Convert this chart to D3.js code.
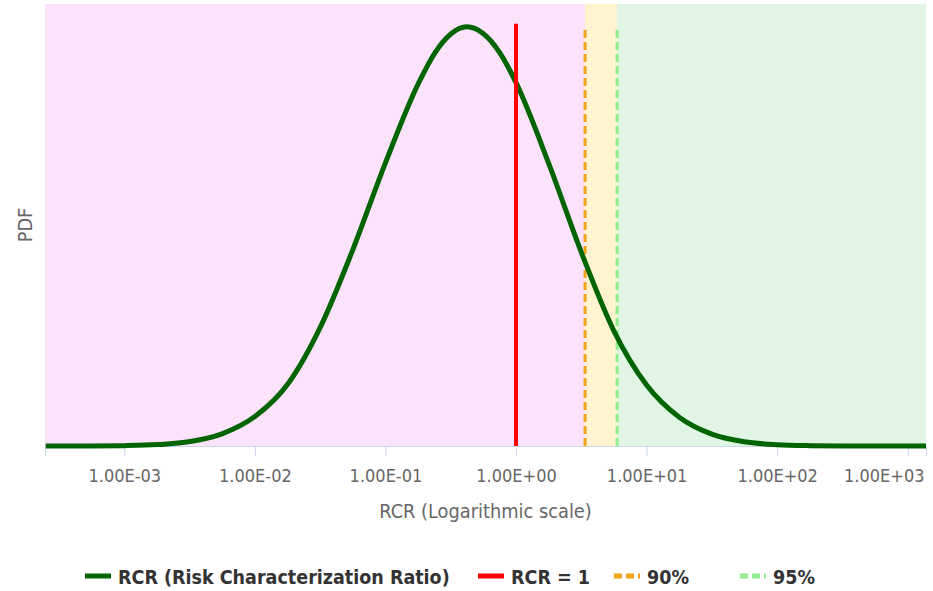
<!DOCTYPE html>
<html>
<head>
<meta charset="utf-8">
<script src="https://cdn.jsdelivr.net/npm/d3@7"></script>
<style>
  body { margin: 0; background: #fff; }
  text { font-family: "DejaVu Sans Condensed", "DejaVu Sans", sans-serif; font-stretch: condensed; }
</style>
</head>
<body>
<div id="chart"></div>
<script>
var svgWidth = 933;
var svgHeight = 591;

var margin = { top: 4, right: 7, bottom: 145, left: 45 };
var width = svgWidth - margin.left - margin.right;
var height = svgHeight - margin.top - margin.bottom;

var fontFamily = "DejaVu Sans Condensed, DejaVu Sans, sans-serif";

// RCR values (x) and the PDF (y)
var rcrValues = [0.00025, 0.00056, 0.001, 0.0018, 0.0032, 0.0056, 0.01, 0.018, 0.032, 0.056,
    0.1, 0.18, 0.24, 0.32, 0.42, 0.56, 0.75, 1, 1.8, 3.2, 5.6, 10, 18, 32, 56,
    100, 180, 320, 560, 1000, 1380];
var pdfValues = [0.0000, 0.0001, 0.0005, 0.0019, 0.0060, 0.0165, 0.040, 0.085, 0.163, 0.266,
    0.385, 0.494, 0.535, 0.561, 0.570, 0.561, 0.535, 0.494, 0.382, 0.261, 0.157, 0.083, 0.0385, 0.0158, 0.0057,
    0.0018, 0.0005, 0.0001, 0.0000, 0.0, 0.0];

var rcrOne = 1;
var p90 = 3.38;
var p95 = 5.94;

var xTicks = [1e-3, 1e-2, 1e-1, 1e0, 1e1, 1e2, 1e3];
var legendLabels = ["RCR (Risk Characterization Ratio)", "RCR = 1", "90%", "95%"];

var curveData = rcrValues.map(function(d, i) { return { x: d, y: pdfValues[i] }; });

var svg = d3.select("#chart")
    .append("svg")
    .attr("width", svgWidth)
    .attr("height", svgHeight);

var chartGroup = svg.append("g")
    .attr("transform", `translate(${margin.left}, ${margin.top})`);

var xLogScale = d3.scaleLog()
    .domain([2.47e-4, 1380])
    .range([0, width]);

var yLinearScale = d3.scaleLinear()
    .domain([0, 0.601])
    .range([height, 0]);

// background zones
var zones = [
    { from: xLogScale.domain()[0], to: p90, color: "#fce2fb" },
    { from: p90, to: p95, color: "#fff4cf" },
    { from: p95, to: xLogScale.domain()[1], color: "#e1f5e4" }
];
chartGroup.selectAll(".zone")
    .data(zones)
    .enter()
    .append("rect")
    .attr("x", d => xLogScale(d.from))
    .attr("width", d => xLogScale(d.to) - xLogScale(d.from))
    .attr("y", 0)
    .attr("height", height)
    .attr("fill", d => d.color);

function fmt(d) {
    var parts = d.toExponential(2).toUpperCase().split("E");
    var e = +parts[1];
    return parts[0] + "E" + (e < 0 ? "-" : "+") + String(Math.abs(e)).padStart(2, "0");
}

var bottomAxis = d3.axisBottom(xLogScale)
    .tickValues(xTicks)
    .tickFormat(fmt)
    .tickSize(10)
    .tickPadding(13);

var xAxis = chartGroup.append("g")
    .attr("transform", `translate(0, ${height})`)
    .call(bottomAxis);
xAxis.select(".domain").attr("stroke", "#ccd6eb");
xAxis.selectAll(".tick line").attr("stroke", "#ccd6eb");
xAxis.selectAll(".tick text")
    .attr("fill", "#666")
    .attr("font-size", "18px")
    .style("font-family", fontFamily);

// keep the last label inside the chart
xAxis.selectAll(".tick text").each(function(d) {
    var w = this.getComputedTextLength();
    var right = margin.left + xLogScale(d) + w / 2;
    var limit = svgWidth - 9;
    if (right > limit) d3.select(this).attr("x", limit - right);
});

var peak = d3.max(pdfValues);

// vertical marker lines
chartGroup.append("line")
    .attr("x1", xLogScale(p90)).attr("x2", xLogScale(p90))
    .attr("y1", yLinearScale(0)).attr("y2", yLinearScale(peak))
    .attr("stroke", "#f5a21b")
    .attr("stroke-width", 3)
    .attr("stroke-dasharray", "8,4");

chartGroup.append("line")
    .attr("x1", xLogScale(p95)).attr("x2", xLogScale(p95))
    .attr("y1", yLinearScale(0)).attr("y2", yLinearScale(peak))
    .attr("stroke", "#90ee90")
    .attr("stroke-width", 3)
    .attr("stroke-dasharray", "8,4");

var line = d3.line()
    .x(d => xLogScale(d.x))
    .y(d => yLinearScale(d.y))
    .curve(d3.curveMonotoneX);

chartGroup.append("path")
    .datum(curveData)
    .attr("d", line)
    .attr("fill", "none")
    .attr("stroke", "#006400")
    .attr("stroke-width", 5)
    .attr("stroke-linejoin", "round");

chartGroup.append("line")
    .attr("x1", xLogScale(rcrOne)).attr("x2", xLogScale(rcrOne))
    .attr("y1", yLinearScale(0)).attr("y2", yLinearScale(peak) - 3)
    .attr("stroke", "#ff0000")
    .attr("stroke-width", 4);

// axis titles
chartGroup.append("text")
    .attr("text-anchor", "middle")
    .attr("x", width / 2)
    .attr("y", height + 72)
    .attr("fill", "#666")
    .attr("font-size", "19.8px")
    .style("font-family", fontFamily)
    .text("RCR (Logarithmic scale)");

chartGroup.append("text")
    .attr("text-anchor", "middle")
    .attr("transform", `translate(-13, ${height / 2}) rotate(-90)`)
    .attr("fill", "#666")
    .attr("font-size", "19.8px")
    .style("font-family", fontFamily)
    .text("PDF");

// legend
var legendItems = [
    { label: legendLabels[0], color: "#006400", dash: null, x: 85 },
    { label: legendLabels[1], color: "#ff0000", dash: null, x: 478 },
    { label: legendLabels[2], color: "#f5a21b", dash: "8,4", x: 614 },
    { label: legendLabels[3], color: "#90ee90", dash: "8,4", x: 740 }
];

var legend = svg.append("g").attr("transform", "translate(0, 576)");
legendItems.forEach(function(item) {
    var g = legend.append("g").attr("transform", `translate(${item.x}, 0)`);
    g.append("line")
        .attr("x1", 0).attr("x2", 26)
        .attr("y1", 0).attr("y2", 0)
        .attr("stroke", item.color)
        .attr("stroke-width", 5)
        .attr("stroke-dasharray", item.dash);
    g.append("text")
        .attr("x", 33)
        .attr("y", 8)
        .attr("fill", "#333")
        .attr("font-weight", "bold")
        .attr("font-size", "19.5px")
        .style("font-family", fontFamily)
        .text(item.label);
});
</script>
</body>
</html>
